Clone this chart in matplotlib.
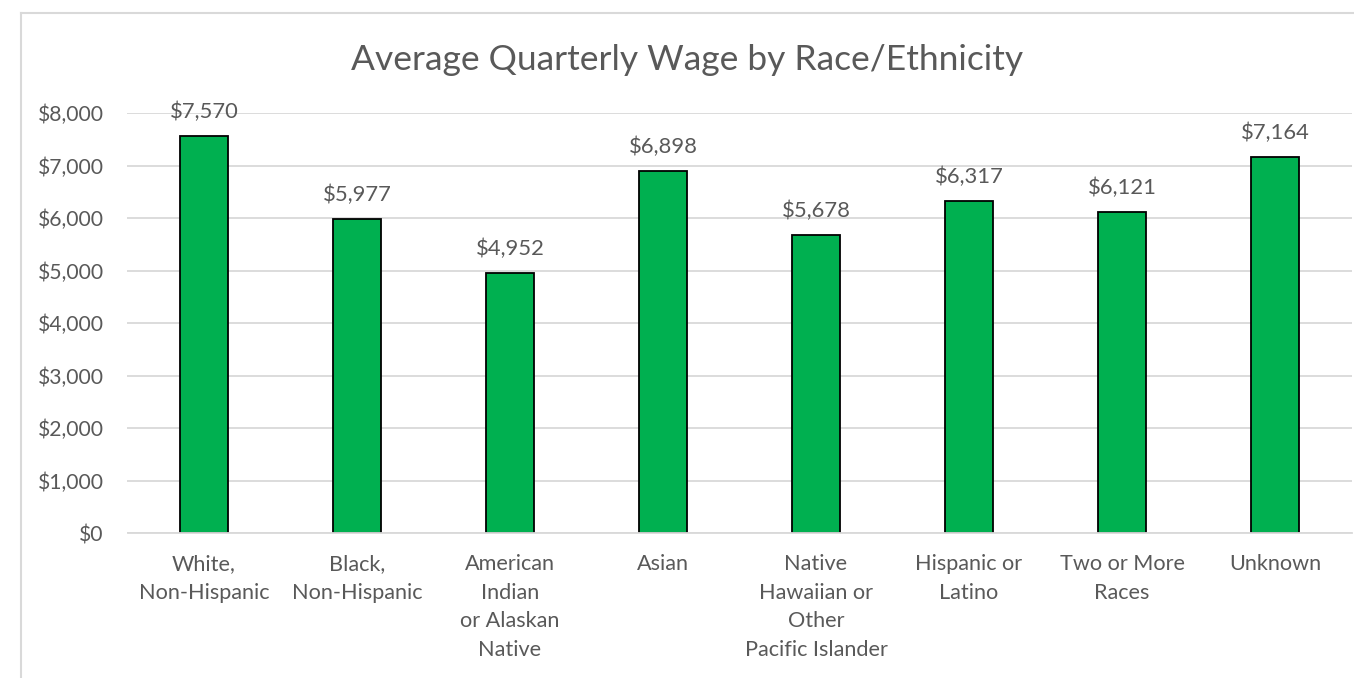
import matplotlib.pyplot as plt
from matplotlib.lines import Line2D
from matplotlib.ticker import FuncFormatter

# Dados
categorias = ['White,\nNon-Hispanic', 'Black,\nNon-Hispanic',
              'American\nIndian\nor Alaskan\nNative', 'Asian',
              'Native\nHawaiian or\nOther\nPacific Islander',
              'Hispanic or\nLatino', 'Two or More\nRaces', 'Unknown']
salarios = [7570, 5977, 4952, 6898, 5678, 6317, 6121, 7164]
yticks = [0, 1000, 2000, 3000, 4000, 5000, 6000, 7000, 8000]

cinza = '#595959'
grade = '#D9D9D9'
plt.rcParams['font.family'] = ['Lato', 'DejaVu Sans']

fig = plt.figure(figsize=(13.54, 6.78), dpi=100)
ax = fig.add_axes([127.5 / 1354, 1 - 533 / 678, 1224 / 1354, 420 / 678])

x = range(len(categorias))
bars = ax.bar(x, salarios, width=0.31, color='#00B050', edgecolor='black',
              linewidth=1.3, zorder=3)

for b, v in zip(bars, salarios):
    ax.annotate(f'${v:,}', (b.get_x() + b.get_width() / 2, v),
                xytext=(0, 10), textcoords='offset points',
                ha='center', va='bottom', fontsize=15.8, color=cinza)

ax.set_xlim(-0.5, len(categorias) - 0.5)
ax.set_ylim(0, 8000)
ax.set_yticks(yticks)
ax.yaxis.set_major_formatter(FuncFormatter(lambda v, p: f'${v:,.0f}'))
ax.set_xticks(list(x))
ax.set_xticklabels(categorias, linespacing=1.55)
ax.tick_params(axis='y', length=0, pad=17, labelsize=15.2, labelcolor=cinza)
ax.tick_params(axis='x', length=0, pad=15, labelsize=15.6, labelcolor=cinza)
ax.grid(axis='y', color=grade, linewidth=1.3, zorder=0)
for s in ['top', 'right', 'left']:
    ax.spines[s].set_visible(False)
ax.spines['bottom'].set_color(grade)
ax.spines['bottom'].set_linewidth(1.3)
ax.spines['bottom'].set_zorder(4)

fig.text(687 / 1354, 1 - 60 / 678, 'Average Quarterly Wage by Race/Ethnicity',
         ha='center', va='center', fontsize=25.5, color=cinza)

# moldura do gráfico
fig.add_artist(Line2D([21 / 1354, 1], [1 - 13 / 678] * 2, color=grade, lw=1.5))
fig.add_artist(Line2D([21 / 1354] * 2, [0, 1 - 13 / 678], color=grade, lw=1.5))

fig.savefig('out.png', dpi=100)
